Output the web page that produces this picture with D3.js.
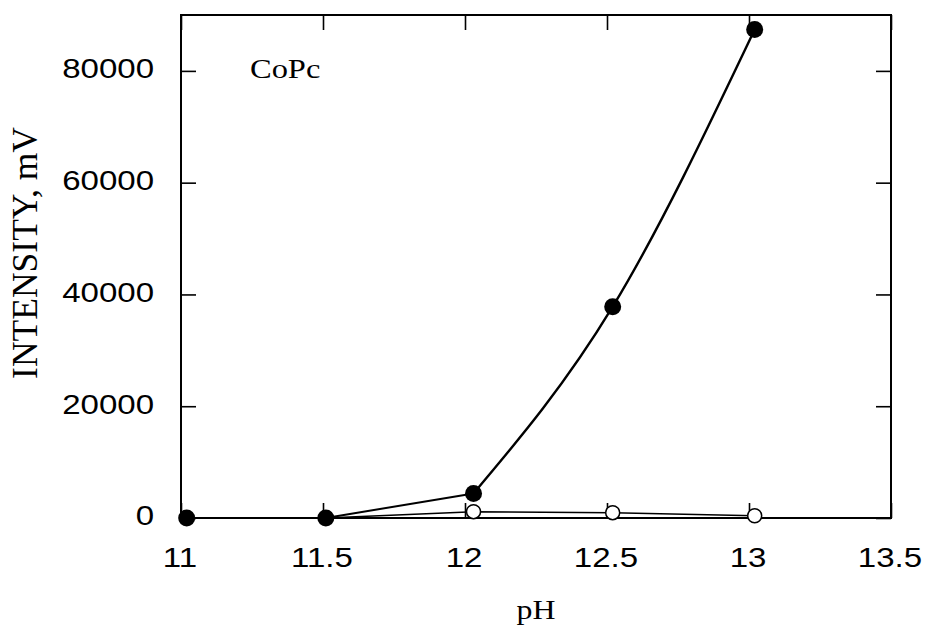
<!DOCTYPE html>
<html>
<head>
<meta charset="utf-8">
<script src="https://cdn.jsdelivr.net/npm/d3@7"></script>
<style>
  html, body { margin: 0; padding: 0; background: #fff; }
  svg { display: block; }
</style>
</head>
<body>
<svg id="chart" width="928" height="627"></svg>
<script>
// pH at which each sample was measured
const pH = [11.02, 11.51, 12.03, 12.52, 13.02];
// CoPc intensity (mV), filled markers
const filledSeries = [0, 0, 4400, 37800, 87400];
// CoPc intensity (mV), open markers
const openSeries = [0, 0, 1130, 950, 410];
// axis ticks
const xTicks = [11, 11.5, 12, 12.5, 13, 13.5];
const yTicks = [0, 20000, 40000, 60000, 80000];

(function draw() {
  const svg = d3.select("#chart");
  const plotL = 181, plotR = 891, plotT = 15, plotB = 518;
  const stretch = 1.18;

  const x = d3.scaleLinear().domain([11, 13.5]).range([plotL, plotR]);
  const y = d3.scaleLinear().domain([0, 90000]).range([plotB, plotT]);

  const sans = "'Liberation Sans', Arial, Helvetica, sans-serif";
  const serif = "'Liberation Serif', 'Times New Roman', serif";

  // frame
  svg.append("rect")
    .attr("x", plotL).attr("y", plotT)
    .attr("width", plotR - plotL).attr("height", plotB - plotT)
    .attr("fill", "none").attr("stroke", "#000").attr("stroke-width", 2);

  function styleAxis(g) {
    g.select(".domain").remove();
    g.selectAll(".tick line").attr("stroke", "#000").attr("stroke-width", 1.6);
  }

  // bottom axis with labels
  const gx = svg.append("g").attr("transform", `translate(0,${plotB})`)
    .call(d3.axisBottom(x).tickValues(xTicks).tickSize(-15).tickFormat(d3.format("")))
    .call(styleAxis);
  gx.selectAll(".tick text")
    .attr("y", 0).attr("dy", 0)
    .attr("transform", `translate(-1.5,49) scale(${stretch},1)`)
    .attr("font-family", sans).attr("font-size", 28).attr("fill", "#000");

  // top mirror ticks
  svg.append("g").attr("transform", `translate(0,${plotT})`)
    .call(d3.axisTop(x).tickValues(xTicks).tickSize(-15).tickFormat(""))
    .call(styleAxis);

  // left axis with labels
  const gy = svg.append("g").attr("transform", `translate(${plotL},0)`)
    .call(d3.axisLeft(y).tickValues(yTicks).tickSize(-15).tickFormat(d3.format("d")))
    .call(styleAxis);
  gy.selectAll(".tick text")
    .attr("x", 0).attr("dy", "0.35em")
    .attr("transform", `translate(-27,-3) scale(${stretch},1)`)
    .attr("font-family", sans).attr("font-size", 28).attr("fill", "#000");

  // right mirror ticks
  svg.append("g").attr("transform", `translate(${plotR},0)`)
    .call(d3.axisRight(y).tickValues(yTicks).tickSize(-15).tickFormat(""))
    .call(styleAxis);

  const openPts = pH.map((p, i) => [x(p), y(openSeries[i])]);
  const filledPts = pH.map((p, i) => [x(p), y(filledSeries[i])]);

  // open series: straight segments
  svg.append("path").attr("d", d3.line()(openPts))
    .attr("fill", "none").attr("stroke", "#000").attr("stroke-width", 1.4);

  // filled series: straight up to pH 12, then a natural spline to pH 13
  svg.append("path").attr("d", d3.line()(filledPts.slice(0, 3)))
    .attr("fill", "none").attr("stroke", "#000").attr("stroke-width", 2);
  svg.append("path").attr("d", d3.line().curve(d3.curveNatural)(filledPts.slice(2)))
    .attr("fill", "none").attr("stroke", "#000").attr("stroke-width", 2.4);

  // open markers (the first two sit beneath the filled ones at zero)
  svg.append("g").selectAll("circle").data(openPts.slice(2)).join("circle")
    .attr("cx", d => d[0]).attr("cy", d => d[1]).attr("r", 7)
    .attr("fill", "#fff").attr("stroke", "#000").attr("stroke-width", 1.5);

  // filled markers
  svg.append("g").selectAll("circle").data(filledPts).join("circle")
    .attr("cx", d => d[0]).attr("cy", d => d[1]).attr("r", 8.5)
    .attr("fill", "#000");

  // sample label
  svg.append("text")
    .attr("transform", `translate(250,78) scale(${stretch},1)`)
    .attr("font-family", serif).attr("font-size", 27.5).attr("fill", "#000")
    .text("CoPc");

  // axis titles
  svg.append("text")
    .attr("transform", `translate(${(plotL + plotR) / 2},619) scale(${stretch},1)`)
    .attr("text-anchor", "middle")
    .attr("font-family", serif).attr("font-size", 27).attr("fill", "#000")
    .text("pH");

  svg.append("text")
    .attr("transform", "translate(37,253) rotate(-90)")
    .attr("text-anchor", "middle")
    .attr("font-family", serif).attr("font-size", 35.5).attr("fill", "#000")
    .text("INTENSITY, mV");
})();
</script>
</body>
</html>
